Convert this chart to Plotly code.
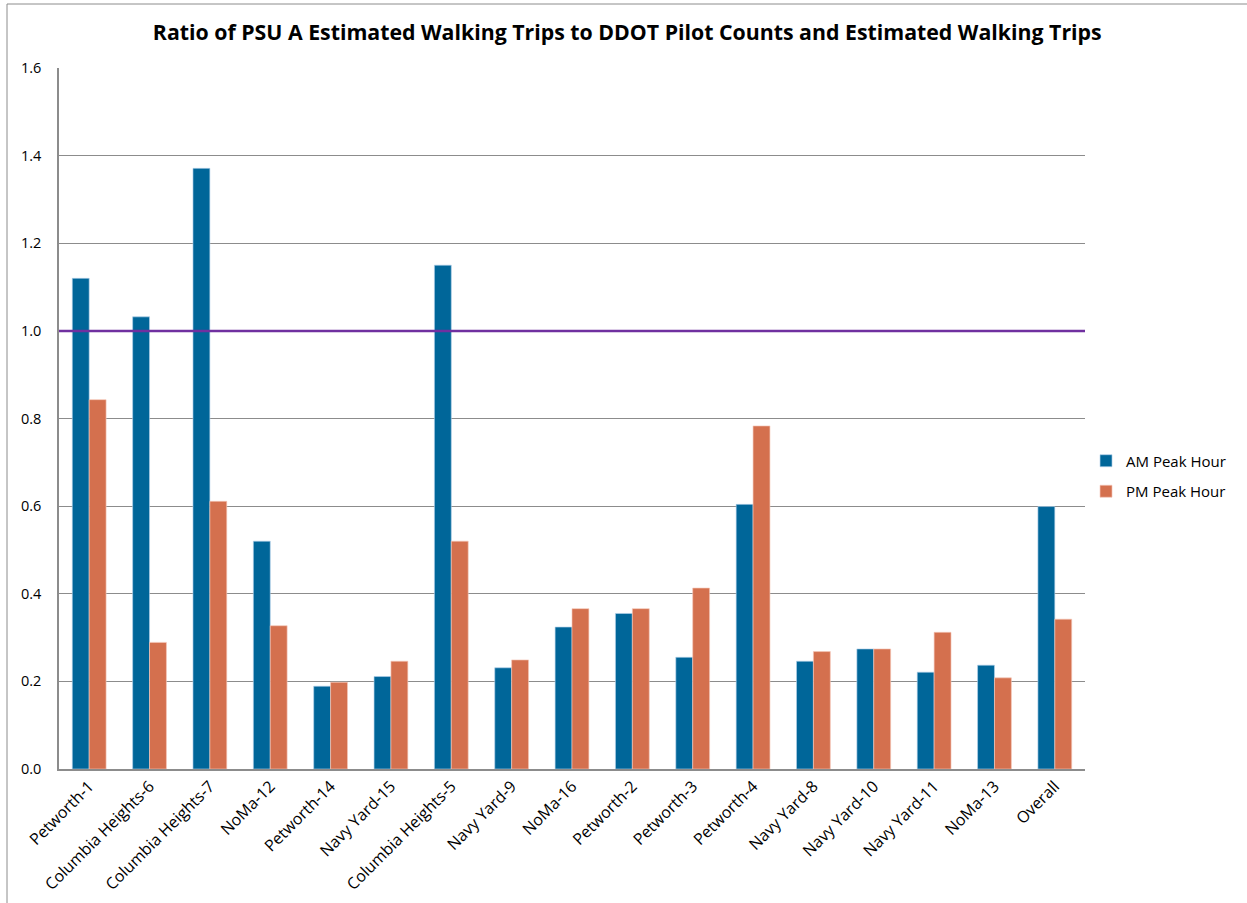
import plotly.graph_objects as go

categories = ["Petworth-1", "Columbia Heights-6", "Columbia Heights-7", "NoMa-12",
              "Petworth-14", "Navy Yard-15", "Columbia Heights-5", "Navy Yard-9",
              "NoMa-16", "Petworth-2", "Petworth-3", "Petworth-4", "Navy Yard-8",
              "Navy Yard-10", "Navy Yard-11", "NoMa-13", "Overall"]
am_peak = [1.12, 1.032, 1.371, 0.520, 0.189, 0.211, 1.150, 0.231, 0.324, 0.355,
           0.255, 0.604, 0.246, 0.274, 0.221, 0.237, 0.599]
pm_peak = [0.843, 0.289, 0.611, 0.327, 0.198, 0.246, 0.520, 0.249, 0.366, 0.366,
           0.413, 0.783, 0.268, 0.274, 0.312, 0.208, 0.342]
reference_value = 1.0
y_ticks = [0.0, 0.2, 0.4, 0.6, 0.8, 1.0, 1.2, 1.4, 1.6]

W, H = 1247, 903
ML, MR, MT, MB = 59, 162, 68, 134
FONT = "Open Sans"

fig = go.Figure()
fig.add_trace(go.Bar(name="AM Peak Hour", x=categories, y=am_peak, legendgroup="am",
                     marker=dict(color="#006699", line=dict(color="rgba(180,210,235,0.8)", width=0.8))))
fig.add_trace(go.Bar(name="PM Peak Hour", x=categories, y=pm_peak, legendgroup="pm",
                     marker=dict(color="#D4704E", line=dict(color="rgba(245,200,185,0.8)", width=0.8))))

fig.add_shape(type="line", xref="paper", yref="y", x0=0, x1=1,
              y0=reference_value, y1=reference_value,
              line=dict(color="#7030A0", width=2.5), layer="above")

# outer chart frame (left and top edges visible)
fig.add_shape(type="rect", xref="paper", yref="paper",
              x0=(7 - ML) / (W - ML - MR), x1=(W + 20 - ML) / (W - ML - MR),
              y0=-(H + 20 - (H - MB)) / (H - MT - MB), y1=(H - MB - 4) / (H - MT - MB),
              line=dict(color="#8c8c8c", width=1), fillcolor="rgba(0,0,0,0)", layer="below")

fig.update_layout(
    width=W, height=H,
    margin=dict(l=ML, r=MR, t=MT, b=MB, autoexpand=False),
    paper_bgcolor="white", plot_bgcolor="white",
    barmode="group", bargap=0.44, bargroupgap=0,
    title=dict(text="<b>Ratio of PSU A Estimated Walking Trips to DDOT Pilot Counts and Estimated Walking Trips</b>",
               x=0.503, xanchor="center", y=1 - 33 / H, yanchor="middle",
               font=dict(family=FONT, size=21.3, color="black")),
    font=dict(family=FONT, size=14, color="black"),
    legend=dict(x=1.001, xanchor="left", y=0.418, yanchor="middle",
                font=dict(family=FONT, size=15, color="black"),
                tracegroupgap=8, itemwidth=30, bgcolor="rgba(0,0,0,0)"),
    showlegend=True,
)
fig.update_xaxes(tickangle=-45, showline=True, linecolor="#8c8c8c", linewidth=1.5,
                 showgrid=False, ticks="", automargin=False,
                 tickfont=dict(family=FONT, size=16))
fig.update_yaxes(range=[0, 1.6], tickvals=y_ticks, tickformat=".1f",
                 showgrid=True, gridcolor="#8c8c8c", gridwidth=1,
                 showline=True, linecolor="#8c8c8c", linewidth=1.5,
                 ticks="", ticklabelstandoff=13, zeroline=False, automargin=False,
                 tickfont=dict(family=FONT, size=14.5))

fig.write_html("out.html", config={"displayModeBar": False},
               post_script="document.body.style.margin='0';document.body.style.overflow='hidden';")
